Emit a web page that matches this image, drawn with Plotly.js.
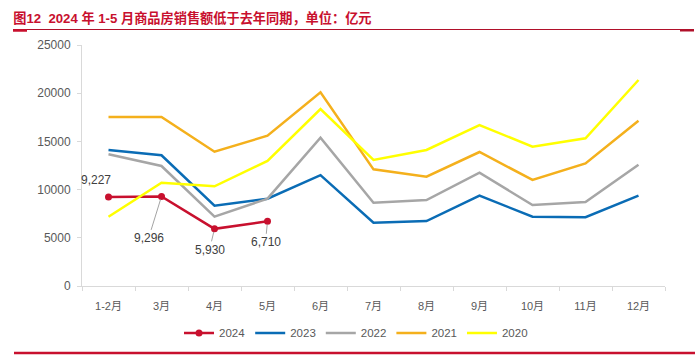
<!DOCTYPE html>
<html>
<head>
<meta charset="utf-8">
<script src="https://cdn.plot.ly/plotly-3.0.1.min.js"></script>
<style>html,body{margin:0;padding:0;background:#fff;}#chart{width:695px;height:357px;}</style>
</head>
<body>
<div id="chart"></div>
<script>
const months = ["1-2月","3月","4月","5月","6月","7月","8月","9月","10月","11月","12月"];
const s2024 = [9227, 9296, 5930, 6710];
const s2023 = [14110, 13560, 8330, 9060, 11500, 6570, 6740, 9370, 7190, 7130, 9370];
const s2022 = [13660, 12450, 7190, 9060, 15390, 8640, 8920, 11750, 8400, 8710, 12580];
const s2021 = [17530, 17530, 13930, 15590, 20090, 12100, 11340, 13900, 11000, 12720, 17150];
const s2020 = [7190, 10720, 10340, 12970, 18360, 13070, 14110, 16700, 14450, 15320, 21370];
const labels2024 = ["9,227", "9,296", "5,930", "6,710"];

const FONT = "Liberation Sans, Arial, Noto Sans CJK SC, sans-serif";
const traces = [
  {name:"2024", x: months.slice(0, s2024.length), y: s2024, mode:"lines+markers",
   line:{color:"#c8102e", width:2.5}, marker:{color:"#c8102e", size:7}},
  {name:"2023", x: months, y: s2023, mode:"lines", line:{color:"#0a6cb5", width:2.5}},
  {name:"2022", x: months, y: s2022, mode:"lines", line:{color:"#a6a6a6", width:2.5}},
  {name:"2021", x: months, y: s2021, mode:"lines", line:{color:"#f4b01c", width:2.5}},
  {name:"2020", x: months, y: s2020, mode:"lines", line:{color:"#ffff00", width:2.5}}
];

const offs = [[-13,-17,false],[-13,42,true],[-5,21,true],[-2,21,true]];
const annotations = labels2024.map((t,i)=>({
  x: months[i], y: s2024[i], xref:"x", yref:"y", text:t,
  showarrow: true, arrowhead:0, arrowwidth:0.8,
  arrowcolor: offs[i][2] ? "#8c8c8c" : "rgba(0,0,0,0)",
  ax: offs[i][0], ay: offs[i][1], standoff: 3,
  font:{family:FONT, size:12, color:"#404040"}
}));

const layout = {
  width:695, height:357,
  margin:{l:82, r:30, t:45, b:71, autoexpand:false},
  paper_bgcolor:"#fff", plot_bgcolor:"#fff",
  font:{family:FONT, size:11, color:"#595959"},
  showlegend:true,
  title:{text:"<b>图12  2024 年 1-5 月商品房销售额低于去年同期，单位：亿元</b>",
    x:0.019, xanchor:"left", xref:"container", y:1-18.5/357, yref:"container", yanchor:"middle",
    font:{family:"Liberation Sans, Arial, Noto Sans CJK SC, sans-serif", size:13.2, color:"#c8102e"}},
  xaxis:{type:"category", range:[-0.5,10.5], tickson:"boundaries", ticks:"outside", ticklen:4,
    tickcolor:"#d9d9d9", showline:true, linecolor:"#d9d9d9", linewidth:1, showgrid:false,
    zeroline:false, tickfont:{size:11, color:"#595959"}, ticklabelstandoff:10, automargin:false},
  yaxis:{range:[0,25000], dtick:5000, tickformat:"d", ticks:"outside", ticklen:4, tickcolor:"#d9d9d9",
    showline:true, linecolor:"#d9d9d9", linewidth:1, showgrid:false, zeroline:false,
    tickfont:{size:12, color:"#595959"}, ticklabelstandoff:4, automargin:false},
  legend:{orientation:"h", x:0.47, xanchor:"center", y:-0.195, yanchor:"middle",
    itemwidth:30, font:{size:11.5, color:"#595959"}, tracegroupgap:0, traceorder:"normal"},
  annotations: annotations,
  shapes:[
    {type:"line", xref:"paper", yref:"paper", x0:(13-82)/583, x1:(694-82)/583,
     y0:(286-29.5)/241, y1:(286-29.5)/241, line:{color:"#b0102a", width:1}},
    {type:"line", xref:"paper", yref:"paper", x0:(13-82)/583, x1:(27-82)/583,
     y0:(286-30.5)/241, y1:(286-30.5)/241, line:{color:"#c8102e", width:2.5}},
    {type:"line", xref:"paper", yref:"paper", x0:(680-82)/583, x1:(694-82)/583,
     y0:(286-30.5)/241, y1:(286-30.5)/241, line:{color:"#b0102a", width:2}},
    {type:"line", xref:"paper", yref:"paper", x0:(14-82)/583, x1:(695-82)/583,
     y0:(286-353)/241, y1:(286-353)/241, line:{color:"#c8102e", width:2.5}}
  ]
};
Plotly.newPlot("chart", traces, layout, {displayModeBar:false, staticPlot:true});
</script>
</body>
</html>
